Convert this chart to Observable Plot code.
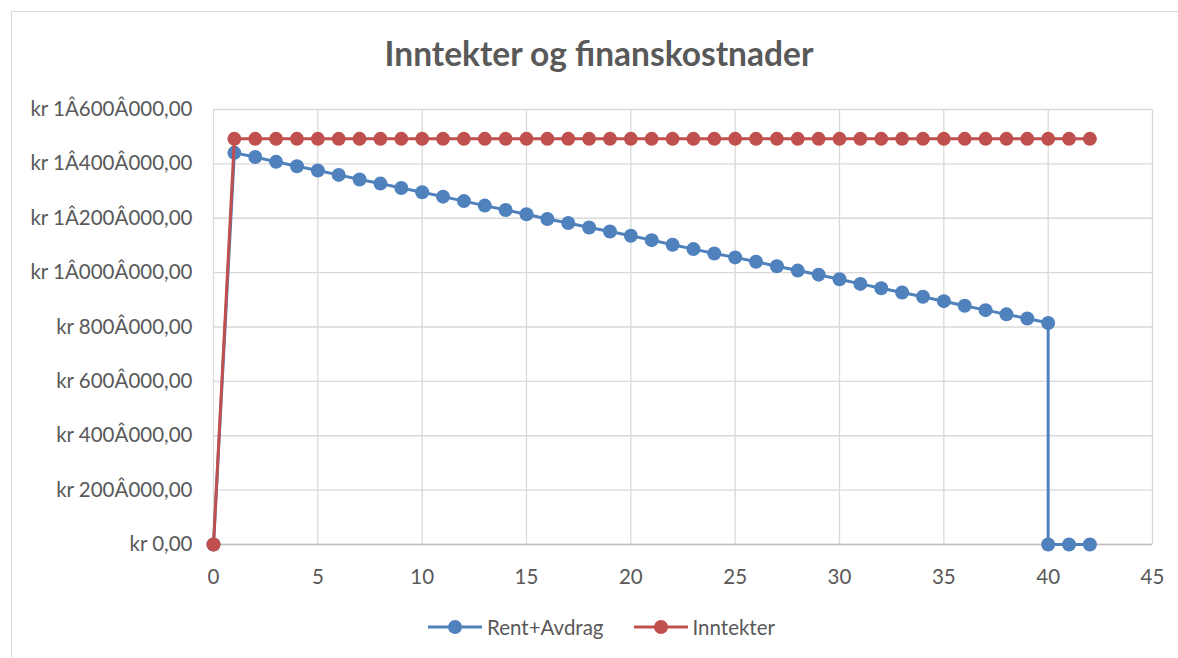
<!DOCTYPE html>
<html>
<head>
<meta charset="utf-8">
<script src="https://cdn.jsdelivr.net/npm/d3@7"></script>
<script src="https://cdn.jsdelivr.net/npm/@observablehq/plot@0.6"></script>
<style>
  html, body { margin: 0; padding: 0; background: #fff; overflow: hidden; }
  #root { position: relative; width: 1178px; height: 658px; font-family: Lato, "Open Sans", sans-serif; }
  #frame { position: absolute; left: 11px; top: 11px; width: 1400px; height: 900px; border: 1px solid #d9d9d9; box-sizing: border-box; }
  #title { position: absolute; left: 0; top: 37px; width: 1198px; text-align: center; font-size: 33.5px; line-height: 1; font-weight: 700; color: #595959; }
  #chart { position: absolute; left: 0; top: 90px; }
  #legend { position: absolute; left: 428px; top: 617px; display: flex; align-items: center; font-size: 20.5px; line-height: 1; color: #595959; }
  #legend .item { display: flex; align-items: center; margin-right: 30px; }
  #legend svg { margin-right: 5px; }
</style>
</head>
<body>
<div id="root">
  <div id="frame"></div>
  <div id="title">Inntekter og finanskostnader</div>
  <div id="chart"></div>
  <div id="legend"></div>
</div>
<script>
const seriesNames = ["Rent+Avdrag", "Inntekter"];
const seriesColors = ["#4f81bd", "#c0504d"];

const rentYears = [0,1,2,3,4,5,6,7,8,9,10,11,12,13,14,15,16,17,18,19,20,21,22,23,24,25,26,27,28,29,30,31,32,33,34,35,36,37,38,39,40,40,41,42];
const rentValues = [0,1440500,1425500,1407500,1391500,1375500,1359500,1342500,1327500,1311500,1295500,1279500,1263000,1246500,1230500,1214500,1197500,1182500,1166000,1151000,1135500,1119500,1102500,1086500,1070500,1056000,1040000,1023500,1007500,992500,975500,958500,942500,927000,911000,895000,878000,862000,846500,831500,814500,0,0,0];

const incomeYears = [0,1,2,3,4,5,6,7,8,9,10,11,12,13,14,15,16,17,18,19,20,21,22,23,24,25,26,27,28,29,30,31,32,33,34,35,36,37,38,39,40,41,42];
const incomeValues = [0,1492000,1492000,1492000,1492000,1492000,1492000,1492000,1492000,1492000,1492000,1492000,1492000,1492000,1492000,1492000,1492000,1492000,1492000,1492000,1492000,1492000,1492000,1492000,1492000,1492000,1492000,1492000,1492000,1492000,1492000,1492000,1492000,1492000,1492000,1492000,1492000,1492000,1492000,1492000,1492000,1492000,1492000];

const xTicks = [0,5,10,15,20,25,30,35,40,45];
const yTicks = [0,200000,400000,600000,800000,1000000,1200000,1400000,1600000];

const rent = rentYears.map((x, i) => ({x, y: rentValues[i]}));
const income = incomeYears.map((x, i) => ({x, y: incomeValues[i]}));

const fmtKr = v => v === 0 ? "kr 0,00" : "kr " + d3.format(",")(v).replace(/,/g, "Â") + ",00";

const chart = Plot.plot({
  width: 1178,
  height: 510,
  marginTop: 19,
  marginBottom: 56,
  marginLeft: 213,
  marginRight: 26,
  style: {fontFamily: "Lato, 'Open Sans', sans-serif", fontSize: "20.5px", color: "#595959", background: "transparent", overflow: "visible"},
  x: {domain: [0, 45]},
  y: {domain: [0, 1600000]},
  marks: [
    Plot.gridX(xTicks, {stroke: "#d9d9d9", strokeOpacity: 1, strokeWidth: 1.3}),
    Plot.gridY(yTicks, {stroke: "#d9d9d9", strokeOpacity: 1, strokeWidth: 1.3}),
    Plot.ruleY([0], {stroke: "#bfbfbf", strokeWidth: 1.3}),
    Plot.axisX({ticks: xTicks, tickSize: 0, tickPadding: 25, label: null, fill: "#595959"}),
    Plot.axisY({ticks: yTicks, tickSize: 0, tickPadding: 21, label: null, tickFormat: fmtKr, fill: "#595959"}),
    Plot.line(rent, {x: "x", y: "y", stroke: seriesColors[0], strokeWidth: 3}),
    Plot.dot(rent, {x: "x", y: "y", r: 7, fill: seriesColors[0]}),
    Plot.line(income, {x: "x", y: "y", stroke: seriesColors[1], strokeWidth: 3}),
    Plot.dot(income, {x: "x", y: "y", r: 7, fill: seriesColors[1]})
  ]
});
document.getElementById("chart").appendChild(chart);

const legend = document.getElementById("legend");
seriesNames.forEach((name, i) => {
  const item = document.createElement("div");
  item.className = "item";
  item.innerHTML = `<svg width="54" height="16"><line x1="0" x2="54" y1="8" y2="8" stroke="${seriesColors[i]}" stroke-width="3"/><circle cx="27" cy="8" r="7" fill="${seriesColors[i]}"/></svg><span>${name}</span>`;
  legend.appendChild(item);
});
</script>
</body>
</html>
